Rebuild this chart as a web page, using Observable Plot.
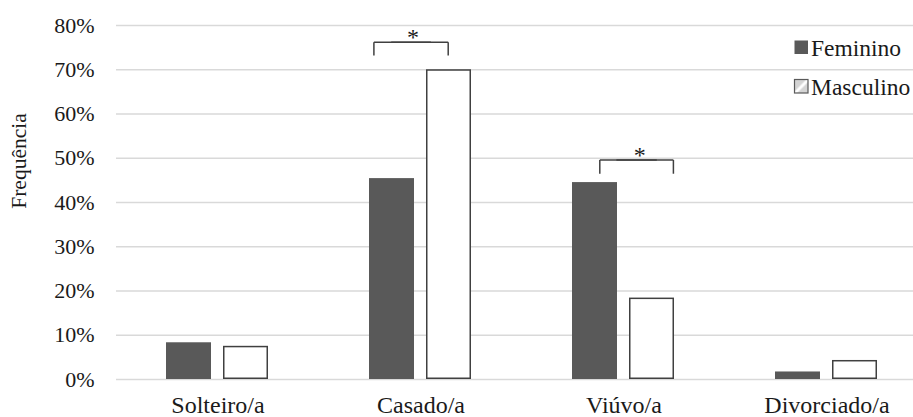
<!DOCTYPE html>
<html>
<head>
<meta charset="utf-8">
<script src="https://cdn.jsdelivr.net/npm/d3@7"></script>
<script src="https://cdn.jsdelivr.net/npm/@observablehq/plot@0.6"></script>
<style>
  html, body { margin: 0; padding: 0; background: #fff; overflow: hidden; }
  #chart { position: relative; width: 913px; height: 417px; overflow: hidden; }
  #chart svg { max-width: none !important; }
</style>
</head>
<body>
<div id="chart"></div>
<script>
// Estado civil por sexo (% dentro de cada sexo)
const categories = ["Solteiro/a", "Casado/a", "Viúvo/a", "Divorciado/a"];
const sexes = ["Feminino", "Masculino"];
const feminino = [8.3, 45.4, 44.5, 1.7];
const masculino = [7.5, 70.0, 18.4, 4.3];
const yTicks = [0, 10, 20, 30, 40, 50, 60, 70, 80];

// Diferenças significativas (*): categoria, topo e base do colchete (%)
const sigCategories = ["Casado/a", "Viúvo/a"];
const sigTop = [76.2, 49.6];
const sigLow = [73.2, 46.5];

const rows = categories.flatMap((cat, i) => [
  {cat, sex: sexes[0], value: feminino[i]},
  {cat, sex: sexes[1], value: masculino[i]}
]);

const FONT = "'Liberation Serif', 'Times New Roman', Times, serif";
const INK = "#1a1a1a";

// one bracket: left/right leg offsets (px) from the bar centres, star offset from the Feminino centre
function bracket(i, leftDx, rightDx, starDx) {
  const b = [{cat: sigCategories[i], top: sigTop[i], low: sigLow[i]}];
  const line = {fx: "cat", stroke: "#404040", strokeWidth: 1.5};
  return [
    Plot.link(b, {...line, x1: () => sexes[0], x2: () => sexes[1], y1: "top", y2: "top", dx: leftDx}),
    Plot.link(b, {...line, x1: () => sexes[0], x2: () => sexes[1], y1: "top", y2: "top", dx: rightDx}),
    Plot.link(b, {...line, x1: () => sexes[0], x2: () => sexes[0], y1: "low", y2: "top", dx: leftDx}),
    Plot.link(b, {...line, x1: () => sexes[1], x2: () => sexes[1], y1: "low", y2: "top", dx: rightDx}),
    Plot.text(b, {fx: "cat", x: () => sexes[0], y: "top", text: () => "*", fontSize: 24,
                  lineAnchor: "bottom", dx: starDx, dy: 3, fill: INK})
  ];
}

const plot = Plot.plot({
  width: 928,
  height: 417,
  marginLeft: 115,
  marginRight: 0,
  marginTop: 25,
  marginBottom: 38,
  style: {fontFamily: FONT, color: INK, background: "white", overflow: "visible"},
  fx: {domain: categories, paddingInner: 0, paddingOuter: 0, label: null},
  x: {domain: sexes, paddingInner: 0.21, paddingOuter: 0.867, axis: null},
  y: {domain: [0, 80], label: null},
  marks: [
    Plot.gridY(yTicks, {stroke: "#d9d9d9", strokeOpacity: 1, strokeWidth: 1.5}),
    Plot.axisY(yTicks, {tickSize: 0, tickPadding: 22, fontSize: 22, tickFormat: d => d + "%", label: null}),
    Plot.axisFx({anchor: "bottom", tickSize: 0, tickPadding: 16, fontSize: 24, label: null}),
    Plot.barY(rows.filter(d => d.sex === sexes[0]), {fx: "cat", x: "sex", y: "value", fill: "#595959"}),
    Plot.barY(rows.filter(d => d.sex === sexes[1]), {fx: "cat", x: "sex", y: "value", fill: "white",
              stroke: "#404040", strokeWidth: 1.5, inset: 0.75}),
    ...bracket(0, -18.1, -0.8, 20.9),
    ...bracket(1, 4.8, 21.4, 44.8)
  ]
});

const svg = d3.select(plot);

// axis title
svg.append("text")
  .attr("transform", "translate(26,161) rotate(-90)")
  .attr("text-anchor", "middle")
  .attr("font-size", 21.5)
  .attr("fill", INK)
  .text("Frequência");

// legend
const LX = 794.5;
const defs = svg.append("defs");
const pat = defs.append("pattern")
  .attr("id", "hatch-masc")
  .attr("patternUnits", "userSpaceOnUse")
  .attr("width", 14).attr("height", 14)
  .attr("x", LX).attr("y", 79.5);
pat.append("rect").attr("width", 14).attr("height", 14).attr("fill", "#d4d4d4");
pat.append("line").attr("x1", 0).attr("y1", 14).attr("x2", 14).attr("y2", 0)
  .attr("stroke", "#fff").attr("stroke-width", 3);

const legend = svg.append("g").attr("text-anchor", "start");
const swatches = [
  {y: 40, fill: "#595959", stroke: "none"},
  {y: 79, fill: "url(#hatch-masc)", stroke: "#595959"}
];
sexes.forEach((s, i) => {
  const sw = swatches[i];
  legend.append("rect")
    .attr("x", LX).attr("y", sw.y + 0.5)
    .attr("width", 13.5).attr("height", 13.5)
    .attr("fill", sw.fill).attr("stroke", sw.stroke).attr("stroke-width", 1.2);
  legend.append("text")
    .attr("x", LX + 16.5).attr("y", sw.y + 15.5)
    .attr("text-anchor", "start")
    .attr("font-size", 23.5)
    .attr("fill", INK)
    .text(s);
});

document.getElementById("chart").append(plot);
</script>
</body>
</html>
